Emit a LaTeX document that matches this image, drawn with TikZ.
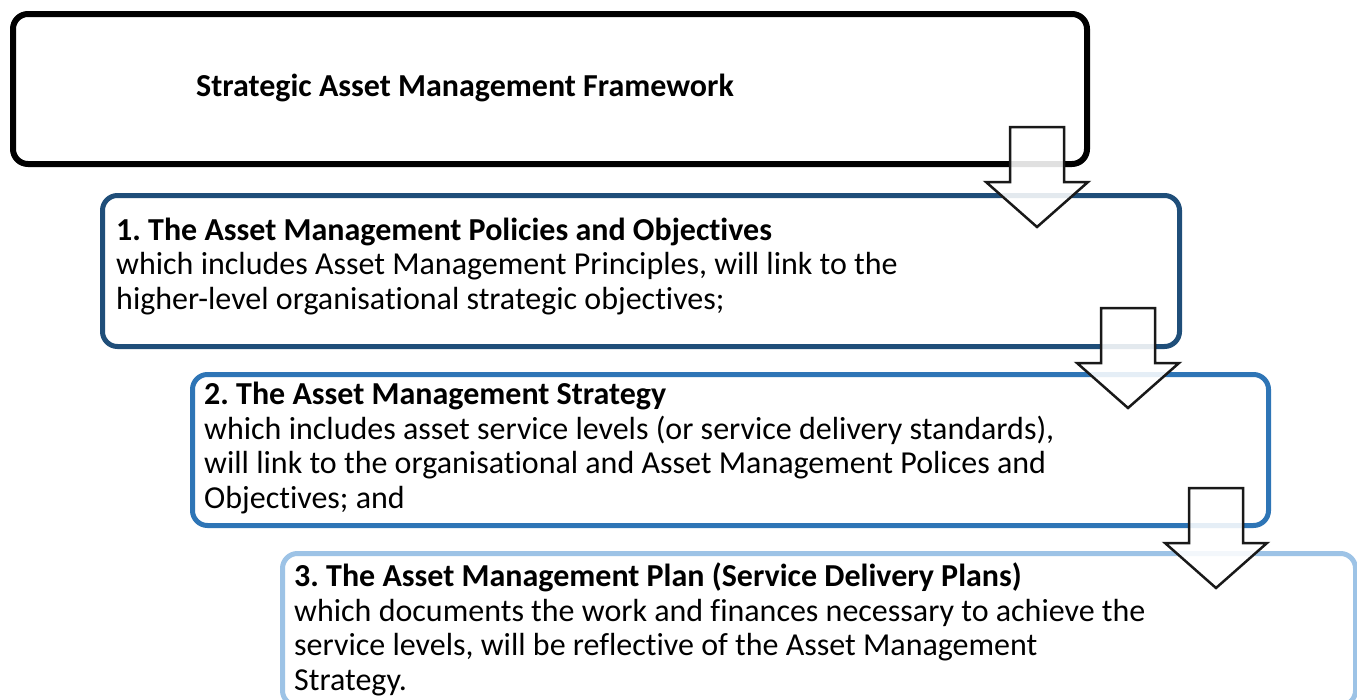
\documentclass[tikz,border=0pt]{standalone}
\usepackage{fontspec}
\setmainfont{Carlito}[Ligatures=NoCommon]
\usetikzlibrary{positioning}
\frenchspacing

\definecolor{lvlone}{HTML}{1F4E79}
\definecolor{lvltwo}{HTML}{2E75B6}
\definecolor{lvlthree}{HTML}{9DC3E6}

\begin{document}
\begin{tikzpicture}[x=1pt,y=-1pt]
  \tikzstyle{frame}=[draw,rounded corners=15pt,line width=5pt,fill=white,anchor=north west,inner sep=0pt]
  % base of a multi-line node sits on its last line
  \tikzstyle{txt}=[inner sep=0pt,anchor=base west,align=left,font=\fontsize{32}{34.5}\selectfont]
  \tikzstyle{downarr}=[draw=black!90,line width=2.5pt,fill=white,fill opacity=0.88]
  \tikzset{downarrow/.pic={
    \draw[downarr] (-27,0) -- (27,0) -- (27,55) -- (51,55) -- (0,100)
      -- (-51,55) -- (-27,55) -- cycle;}}

  \useasboundingbox (0,0) rectangle (1357,699);

  % the four framed levels
  \node[frame,line width=6pt,minimum width=1074,minimum height=150] (fw) at (10,11) {};
  \node[frame,draw=lvlone,minimum width=1077,minimum height=151] (pol) at (100,193) {};
  \node[frame,draw=lvltwo,minimum width=1076,minimum height=151] (strat) at (190,372) {};
  \node[frame,draw=lvlthree,minimum width=1073,minimum height=152] (plan) at (280,551) {};

  \node[txt] (fwtxt) at (196,96) {\textbf{Strategic Asset Management Framework}};
  \node[txt] (poltxt) at (116,309) {\textbf{1. The Asset Management Policies and Objectives}\\
    which includes Asset Management Principles, will link to the\\
    higher-level organisational strategic objectives;};
  \node[txt] (strattxt) at (204,508) {\textbf{2. The Asset Management Strategy}\\
    which includes asset service levels (or service delivery standards),\\
    will link to the organisational and Asset Management Polices and\\
    Objectives; and};
  \node[txt] (plantxt) at (294,690) {\textbf{3. The Asset Management Plan (Service Delivery Plans)}\\
    which documents the work and finances necessary to achieve the\\
    service levels, will be reflective of the Asset Management\\
    Strategy.};

  % block arrows between the levels
  \pic at (1037,127) {downarrow};
  \pic at (1128,308) {downarrow};
  \pic at (1216,488) {downarrow};
\end{tikzpicture}
\end{document}
